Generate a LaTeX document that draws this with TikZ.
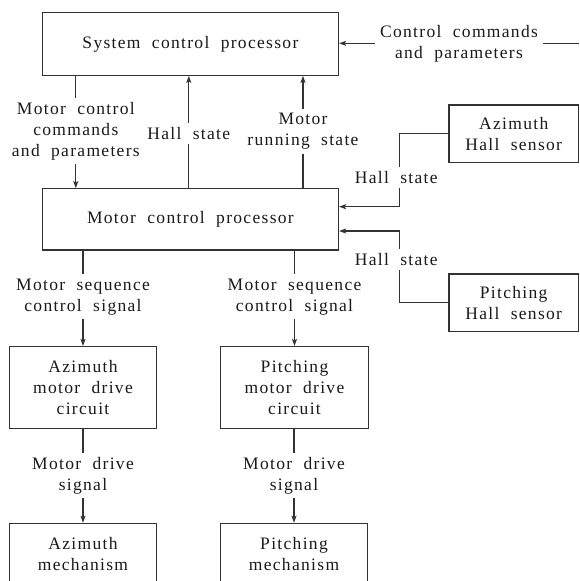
\documentclass[tikz,border=0pt]{standalone}
\usepackage{fontspec}
\setmainfont{Liberation Serif}[LetterSpace=7.5,WordSpace=2]
\usetikzlibrary{arrows.meta}
\definecolor{ln}{HTML}{333333}
\definecolor{tx}{HTML}{1A1A1A}
\begin{document}
\begin{tikzpicture}[x=1pt,y=-1pt,
  box/.style={draw=ln,line width=1.2pt,inner sep=0pt,align=center,font=\fontsize{17.5}{21}\selectfont,text=tx},
  lab/.style={inner xsep=5pt,inner ysep=4pt,align=center,font=\fontsize{17.5}{21}\selectfont,text=tx},
  conn/.style={draw=ln,line width=1.1pt},
  arr/.style={conn,-{Stealth[length=7pt,width=5pt,inset=1.5pt]}}]
\useasboundingbox (0,0) rectangle (579,581);
\fill[white] (0,0) rectangle (579,581);
\clip (0,0) rectangle (579,581);
% boxes
\node[box,minimum width=296.2pt,minimum height=62.6pt] (scp) at (190.4,44) {System control processor};
\node[box,minimum width=296.2pt,minimum height=61.3pt] (mcp) at (190.4,219.35) {Motor control processor};
\node[box,minimum width=129.3pt,minimum height=57.3pt] (azh) at (513.7,133.7) {Azimuth\\Hall sensor};
\node[box,minimum width=129.3pt,minimum height=57.7pt] (pih) at (513.7,302.9) {Pitching\\Hall sensor};
\node[box,minimum width=147.5pt,minimum height=81.8pt] (azd) at (83,387.4) {Azimuth\\motor drive\\circuit};
\node[box,minimum width=147.5pt,minimum height=81.8pt] (pid) at (294.5,387.4) {Pitching\\motor drive\\circuit};
\node[box,minimum width=147.5pt,minimum height=60.7pt] (azm) at (83,553.7) {Azimuth\\mechanism};
\node[box,minimum width=147.5pt,minimum height=60.7pt] (pim) at (294,553.7) {Pitching\\mechanism};
% labels
\node[lab] (cc) at (459,43.3) {Control commands\\and parameters};
\coordinate (ccin) at (579,43.3);
\node[lab] (mcc) at (75.8,131.2) {Motor control\\commands\\and parameters};
\node[lab] (hs0) at (188.8,133.3) {Hall state};
\node[lab] (mrs) at (303,131.2) {Motor\\running state};
\node[lab] (hs1) at (396.2,177.7) {Hall state};
\node[lab] (hs2) at (396.2,259.3) {Hall state};
\node[lab] (ms1) at (83,296.7) {Motor sequence\\control signal};
\node[lab] (ms2) at (294.5,296.7) {Motor sequence\\control signal};
\node[lab] (md1) at (83,475.7) {Motor drive\\signal};
\node[lab] (md2) at (294,475.7) {Motor drive\\signal};
\coordinate (j1) at (399.9,206.7);
\coordinate (j2) at (399.9,231);
% connectors
\draw[conn] (ccin) -- (cc.east);
\draw[arr] (cc.west) -- (scp.east |- cc.west);
\draw[conn] (scp.south -| mcc) -- (mcc.north);
\draw[arr] (mcc.south) -- (mcp.north -| mcc);
\draw[conn] (mcp.north -| hs0) -- (hs0.south);
\draw[arr] (hs0.north) -- (scp.south -| hs0);
\draw[conn] (mcp.north -| mrs) -- (mrs.south);
\draw[arr] (mrs.north) -- (scp.south -| mrs);
\draw[conn] (azh.west) -| (hs1.north -| j1);
\draw[arr] (hs1.south -| j1) |- (mcp.east |- j1);
\draw[conn] (pih.west) -| (hs2.south -| j2);
\draw[arr] (hs2.north -| j2) |- (mcp.east |- j2);
\draw[conn] (mcp.south -| ms1) -- (ms1.north);
\draw[arr] (ms1.south) -- (azd.north);
\draw[conn] (mcp.south -| ms2) -- (ms2.north);
\draw[arr] (ms2.south) -- (pid.north);
\draw[conn] (azd.south) -- (md1.north);
\draw[arr] (md1.south) -- (azm.north);
\draw[conn] (pid.south -| md2) -- (md2.north);
\draw[arr] (md2.south) -- (pim.north);
\end{tikzpicture}
\end{document}
